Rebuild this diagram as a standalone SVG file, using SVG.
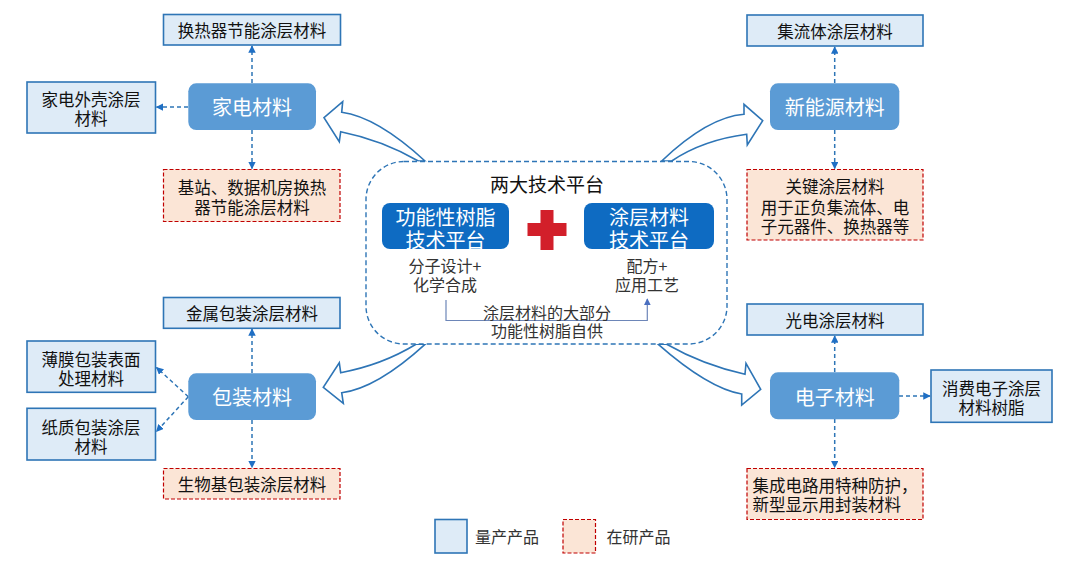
<svg xmlns="http://www.w3.org/2000/svg" width="1080" height="572" viewBox="0 0 1080 572">
<defs>
<style>
text{font-family:"Noto Sans CJK SC","Liberation Sans",sans-serif;}
.prod{fill:#deebf7;stroke:#2e75b6;stroke-width:1.6;}
.res{fill:#fbe5d6;stroke:#c00000;stroke-width:1.2;stroke-dasharray:4 2;}
.node{fill:#5b9bd5;}
.dark{fill:#0e6bc2;}
.nt{fill:#fff;font-size:20px;text-anchor:middle;dominant-baseline:central;}
.bt{fill:#111;font-size:16.5px;text-anchor:middle;dominant-baseline:central;}
.gt{fill:#333;font-size:16px;text-anchor:middle;dominant-baseline:central;}
.conn{fill:none;stroke:#2e75b6;stroke-width:1.5;stroke-dasharray:4 3;}
.big{fill:#fff;stroke:#2e75b6;stroke-width:1.6;stroke-linejoin:miter;}
</style>
<marker id="ah" viewBox="0 0 10 10" refX="9" refY="5" markerWidth="5" markerHeight="5" orient="auto" markerUnits="strokeWidth">
<path d="M0,0 L10,5 L0,10 Z" fill="#1f6fc4"/>
</marker>
<marker id="ah2" viewBox="0 0 10 10" refX="9" refY="5" markerWidth="6" markerHeight="6" orient="auto" markerUnits="strokeWidth">
<path d="M0,0 L10,5 L0,10 Z" fill="#4a6fc0"/>
</marker>
</defs>
<rect width="1080" height="572" fill="#fff"/>

<g id="big-arrows">
<path class="big" d="M425,161 Q377,117 341.7,112.3 L342.7,101.7 L324,117.7 L339.3,141.7 L340.7,131.7 Q382,140 418.3,161 Z"/>
<path class="big" d="M661.7,161 Q708,117 744,114.3 L744,104.3 L762.7,120.7 L747.3,145 L746.7,134.3 Q703,140 671.7,161 Z"/>
<path class="big" d="M425,344.3 Q377,388 341.7,392.7 L343.3,403.3 L323.3,387.3 L339.3,362.7 L340.7,372.7 Q382,365 416,344.3 Z"/>
<path class="big" d="M658.3,344.3 Q708,388 741.7,394 L741.7,405 L760.7,389.3 L746,363.3 L745,374.3 Q703,365 666.7,344.3 Z"/>
</g>

<g id="platform">
<rect x="366" y="161.5" width="361" height="182.5" rx="38" fill="#fff" stroke="#2e75b6" stroke-width="1.4" style="stroke-dasharray:5 3"/>
<text x="547" y="183" style="fill:#111;font-size:19px;text-anchor:middle;dominant-baseline:central">两大技术平台</text>
<rect class="dark" x="382" y="203" width="127" height="46" rx="8"/>
<text class="nt" x="445.5" y="216.5">功能性树脂</text>
<text class="nt" x="445.5" y="239">技术平台</text>
<rect class="dark" x="584" y="203" width="130" height="46" rx="8"/>
<text class="nt" x="649" y="216.5">涂层材料</text>
<text class="nt" x="649" y="239">技术平台</text>
<rect x="540.5" y="210" width="13" height="40" fill="#d21f2a"/>
<rect x="527.5" y="223" width="39" height="13" fill="#d21f2a"/>
<text class="gt" x="445" y="265">分子设计+</text>
<text class="gt" x="445" y="283.5">化学合成</text>
<text class="gt" x="647" y="265">配方+</text>
<text class="gt" x="647" y="283.5">应用工艺</text>
<path d="M446,300 V320.5 H647.3 V299" fill="none" stroke="#6d86b8" stroke-width="1.2" marker-end="url(#ah2)"/>
<text class="gt" x="547" y="311.5">涂层材料的大部分</text>
<text class="gt" x="547" y="330">功能性树脂自供</text>
</g>

<g id="connectors">
<line class="conn" x1="252" y1="83" x2="252" y2="46" marker-end="url(#ah)"/>
<line class="conn" x1="188" y1="107" x2="156.5" y2="107" marker-end="url(#ah)"/>
<line class="conn" x1="252" y1="130" x2="252" y2="168.5" marker-end="url(#ah)"/>
<line class="conn" x1="834.7" y1="83" x2="834.7" y2="47" marker-end="url(#ah)"/>
<line class="conn" x1="834.7" y1="130" x2="834.7" y2="168.5" marker-end="url(#ah)"/>
<line class="conn" x1="252" y1="373" x2="252" y2="329" marker-end="url(#ah)"/>
<line class="conn" x1="188.3" y1="396.7" x2="156.5" y2="367.5" marker-end="url(#ah)"/>
<line class="conn" x1="188.3" y1="396.7" x2="156.5" y2="431.5" marker-end="url(#ah)"/>
<line class="conn" x1="252" y1="420" x2="252" y2="467.5" marker-end="url(#ah)"/>
<line class="conn" x1="834.7" y1="372" x2="834.7" y2="336" marker-end="url(#ah)"/>
<line class="conn" x1="834.7" y1="419" x2="834.7" y2="467.5" marker-end="url(#ah)"/>
<line class="conn" x1="899" y1="396" x2="930" y2="396" marker-end="url(#ah)"/>
</g>

<g id="n-jiadian"><rect class="node" x="188.3" y="83.3" width="127.7" height="46.7" rx="8"/><text class="nt" x="252" y="106.7">家电材料</text></g>
<g id="n-huanre"><rect class="prod" x="163.5" y="14.5" width="177" height="30.5"/><text class="bt" x="252" y="30">换热器节能涂层材料</text></g>
<g id="n-waike"><rect class="prod" x="27" y="82" width="128.5" height="51"/><text class="bt" x="91" y="99">家电外壳涂层</text><text class="bt" x="91" y="118">材料</text></g>
<g id="n-jizhan"><rect class="res" x="163.5" y="169.5" width="176.5" height="52"/><text class="bt" x="252" y="187">基站、数据机房换热</text><text class="bt" x="252" y="206.5">器节能涂层材料</text></g>

<g id="n-xinnengyuan"><rect class="node" x="770" y="83.3" width="129.3" height="46.7" rx="8"/><text class="nt" x="834.7" y="106.7">新能源材料</text></g>
<g id="n-jiliuti"><rect class="prod" x="747" y="15" width="176" height="31"/><text class="bt" x="835" y="31">集流体涂层材料</text></g>
<g id="n-guanjian"><rect class="res" x="747" y="169.5" width="176" height="70.5"/><text class="bt" x="835" y="185.5">关键涂层材料</text><text class="bt" x="835" y="206.5">用于正负集流体、电</text><text class="bt" x="835" y="225.5">子元器件、换热器等</text></g>

<g id="n-baozhuang"><rect class="node" x="188.3" y="373.3" width="127.7" height="46.7" rx="8"/><text class="nt" x="252" y="396.7">包装材料</text></g>
<g id="n-jinshu"><rect class="prod" x="163.5" y="297.5" width="176.5" height="30.8"/><text class="bt" x="252" y="313">金属包装涂层材料</text></g>
<g id="n-bomo"><rect class="prod" x="27" y="341" width="128.5" height="51.3"/><text class="bt" x="91" y="359">薄膜包装表面</text><text class="bt" x="91" y="378">处理材料</text></g>
<g id="n-zhizhi"><rect class="prod" x="27" y="408.3" width="128.5" height="51.7"/><text class="bt" x="91" y="426.5">纸质包装涂层</text><text class="bt" x="91" y="445.5">材料</text></g>
<g id="n-shengwu"><rect class="res" x="163.5" y="468.5" width="176.5" height="30.5"/><text class="bt" x="252" y="484">生物基包装涂层材料</text></g>

<g id="n-dianzi"><rect class="node" x="770" y="372.3" width="129.3" height="47" rx="8"/><text class="nt" x="834.7" y="396">电子材料</text></g>
<g id="n-guangdian"><rect class="prod" x="747" y="304" width="176" height="31"/><text class="bt" x="835" y="320">光电涂层材料</text></g>
<g id="n-xiaofei"><rect class="prod" x="931" y="370" width="121" height="52.3"/><text class="bt" x="991.5" y="388.3">消费电子涂层</text><text class="bt" x="991.5" y="406.7">材料树脂</text></g>
<g id="n-jicheng"><rect class="res" x="747" y="468.5" width="176" height="51"/><text class="bt" x="752.5" y="485" style="text-anchor:start">集成电路用特种防护，</text><text class="bt" x="752.5" y="503.5" style="text-anchor:start">新型显示用封装材料</text></g>

<g id="legend">
<rect class="prod" x="435" y="519.5" width="32" height="33.5"/>
<text x="475" y="535.5" style="fill:#333;font-size:16px;dominant-baseline:central">量产产品</text>
<rect class="res" x="563" y="519.5" width="32.5" height="33.5"/>
<text x="606.5" y="535.5" style="fill:#333;font-size:16px;dominant-baseline:central">在研产品</text>
</g>
</svg>
